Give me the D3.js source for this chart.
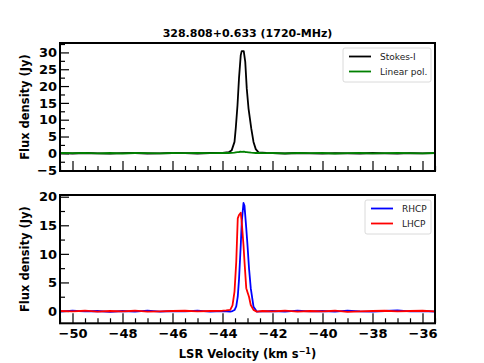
<!DOCTYPE html>
<html lang="en">
<head>
    <title>328.808+0.633 (1720-MHz)</title>
    <meta charset="utf-8"/>
    <script src="https://d3js.org/d3.v7.min.js"></script>
    <style>
        body { margin: 0; background: #fff; }
        text { font-family: "DejaVu Sans", sans-serif; }
    </style>
</head>
<body>
<div id="viz">
    <svg width="484" height="363"></svg>
</div>

<script type="text/javascript">

    // datos
    const vTop = [-50.5, -50, -49.5, -49, -48.5, -48, -47.5, -47, -46.5, -46, -45.5, -45, -44.5, -44, -43.75,
        -43.63, -43.52, -43.47, -43.40, -43.34, -43.27, -43.23, -43.15, -43.09, -43.03, -42.96, -42.85, -42.76, -42.67, -42.56,
        -42.25, -42, -41.5, -41, -40.5, -40, -39.5, -39, -38.5, -38, -37.5, -37, -36.5, -36, -35.5];
    const stokesI = [0.05, -0.05, 0.1, 0.0, -0.1, 0.05, 0.1, -0.05, 0.0, 0.1, 0.05, -0.05, 0.1, 0.15, 0.35,
        0.95, 3.4, 7.4, 14.3, 22.3, 29.2, 30.4, 30.4, 27.2, 19.3, 13.4, 7.4, 3.4, 1.25, 0.3,
        0.1, 0.05, -0.05, 0.1, 0.0, -0.1, 0.05, 0.0, -0.05, 0.1, 0.0, -0.1, 0.05, 0.0, 0.05];
    const linPol = [0.1, 0.05, 0.15, 0.0, 0.1, -0.05, 0.1, 0.05, 0.0, 0.1, 0.05, 0.15, 0.05, 0.1, 0.1,
        0.15, 0.2, 0.3, 0.35, 0.4, 0.5, 0.45, 0.5, 0.4, 0.35, 0.3, 0.2, 0.15, 0.1, 0.1,
        0.05, 0.1, 0.0, 0.1, 0.05, 0.1, -0.05, 0.05, 0.1, 0.0, 0.05, 0.1, 0.05, 0.0, 0.1];

    const vBot = [-50.5, -50, -49.5, -49, -48.5, -48, -47.5, -47, -46.5, -46, -45.5, -45, -44.5, -44, -43.85,
        -43.69, -43.6, -43.52, -43.45, -43.39, -43.34, -43.27, -43.23, -43.16, -43.12, -43.05, -43.0, -42.94, -42.87, -42.76, -42.63,
        -42.4, -42, -41.5, -41, -40.5, -40, -39.5, -39, -38.5, -38, -37.5, -37, -36.5, -36, -35.5];
    const rhcp = [-0.1, 0.05, -0.05, 0.0, -0.15, 0.0, -0.1, 0.05, -0.1, 0.0, -0.05, 0.05, -0.1, 0.0, -0.05,
        -0.1, 0.0, 0.17, 0.8, 2.5, 5.5, 11.5, 15.6, 18.9, 18.4, 14.5, 11.5, 7.5, 4.0, 0.75, -0.1,
        -0.05, 0.0, -0.1, 0.05, -0.05, 0.0, -0.1, 0.05, -0.05, -0.1, 0.0, 0.1, -0.05, 0.0, -0.1];
    const lhcp = [0.0, -0.05, 0.05, -0.1, 0.0, -0.05, 0.05, -0.1, -0.05, 0.0, 0.05, -0.05, 0.0, 0.05, 0.1,
        0.2, 1.0, 3.4, 8.6, 16.2, 16.8, 17.2, 15.5, 11.5, 8.6, 4.0, 3.3, 2.5, 1.05, 0.2, -0.1,
        0.0, -0.05, 0.05, -0.1, 0.0, -0.05, 0.05, -0.15, -0.05, 0.0, 0.05, -0.05, 0.0, 0.05, -0.05];

    const xTicks = [-50, -48, -46, -44, -42, -40, -38, -36];
    const xMinor = [-50.5, -49.5, -49, -48.5, -47.5, -47, -46.5, -45.5, -45, -44.5, -43.5, -43, -42.5,
        -41.5, -41, -40.5, -39.5, -39, -38.5, -37.5, -37, -36.5, -35.5];
    const yTopTicks = [-5, 0, 5, 10, 15, 20, 25, 30];
    const yTopMinor = [-2.5, 2.5, 7.5, 12.5, 17.5, 22.5, 27.5, 32.5];
    const yBotTicks = [0, 5, 10, 15, 20];
    const yBotMinor = [-2.5, 2.5, 7.5, 12.5, 17.5];

    const svg = d3.select("svg");
    const left = 60, right = 435;

    // escalas
    const x = d3.scaleLinear().domain([-50.5, -35.5]).range([left, right]);
    const yTop = d3.scaleLinear().domain([-5.25, 32.8]).range([171, 43]);
    const yBot = d3.scaleLinear().domain([-2.15, 20.3]).range([323.3, 195]);

    function panel(id, y, yTicks, yMinor, showXLabels, series, legend) {
        const g = svg.append("g").attr("id", id);
        const top = y.range()[1], bottom = y.range()[0];

        g.append("clipPath").attr("id", "clip-" + id)
            .append("rect")
            .attr("x", left).attr("y", top)
            .attr("width", right - left).attr("height", bottom - top);

        // ejes con ticks hacia adentro
        const xa = g.append("g")
            .attr("transform", "translate(0," + bottom + ")")
            .style("font-size", "13px")
            .style("font-weight", "bold")
            .call(d3.axisBottom(x).tickValues(xTicks).tickSize(-10).tickPadding(5)
                .tickFormat(showXLabels ? d3.format("d") : ""));
        g.append("g")
            .attr("transform", "translate(0," + bottom + ")")
            .call(d3.axisBottom(x).tickValues(xMinor).tickSize(-5).tickFormat(""));

        g.append("g")
            .attr("transform", "translate(" + left + ",0)")
            .style("font-size", "13px")
            .style("font-weight", "bold")
            .call(d3.axisLeft(y).tickValues(yTicks).tickSize(-9).tickPadding(3).tickFormat(d3.format("d")));
        g.append("g")
            .attr("transform", "translate(" + left + ",0)")
            .call(d3.axisLeft(y).tickValues(yMinor.filter(v => v > y.domain()[0] && v < y.domain()[1]))
                .tickSize(-5).tickFormat(""));

        g.selectAll(".domain").remove();
        g.selectAll(".tick line").attr("stroke", "#000").attr("stroke-width", 1.2);
        g.selectAll(".tick text").attr("fill", "#000");

        const line = d3.line()
            .x(d => x(d[0]))
            .y(d => y(d[1]));

        series.forEach(s => {
            g.append("path")
                .attr("d", line(s.v.map((v, i) => [v, s.data[i]])))
                .attr("fill", "none")
                .attr("stroke", s.color)
                .attr("stroke-width", 1.8)
                .attr("stroke-linejoin", "round")
                .attr("clip-path", "url(#clip-" + id + ")");
        });

        // marco
        g.append("rect")
            .attr("x", left).attr("y", top)
            .attr("width", right - left).attr("height", bottom - top)
            .attr("fill", "none")
            .attr("stroke", "#000")
            .attr("stroke-width", 2);

        // leyenda
        const lg = g.append("g");
        lg.append("rect")
            .attr("x", legend.x).attr("y", legend.y)
            .attr("width", legend.w).attr("height", 34)
            .attr("rx", 2)
            .attr("fill", "#fff").attr("fill-opacity", 0.8)
            .attr("stroke", "#d0d0d0").attr("stroke-width", 0.8);
        series.forEach((s, i) => {
            const yy = legend.y + 8.5 + i * 15;
            lg.append("line")
                .attr("x1", legend.x + 6).attr("x2", legend.x + 28)
                .attr("y1", yy).attr("y2", yy)
                .attr("stroke", s.color).attr("stroke-width", 1.8);
            lg.append("text")
                .attr("x", legend.x + 37).attr("y", yy)
                .attr("dy", "0.35em")
                .style("font-size", "9px")
                .attr("fill", "#222")
                .text(s.name);
        });
    }

    panel("top", yTop, yTopTicks, yTopMinor, false, [
        {name: "Stokes-I", v: vTop, data: stokesI, color: "#000000"},
        {name: "Linear pol.", v: vTop, data: linPol, color: "#008000"}
    ], {x: 343, y: 48, w: 88});

    panel("bot", yBot, yBotTicks, yBotMinor, true, [
        {name: "RHCP", v: vBot, data: rhcp, color: "#0000ff"},
        {name: "LHCP", v: vBot, data: lhcp, color: "#ff0000"}
    ], {x: 365, y: 200, w: 66});

    // titulos
    svg.append("text")
        .attr("x", 247.5).attr("y", 37)
        .attr("text-anchor", "middle")
        .style("font-size", "11px")
        .style("font-weight", "bold")
        .text("328.808+0.633 (1720-MHz)");

    [["top", yTop], ["bot", yBot]].forEach(([id, y]) => {
        svg.append("text")
            .attr("transform", "translate(29," + ((y.range()[0] + y.range()[1]) / 2) + ") rotate(-90)")
            .attr("text-anchor", "middle")
            .style("font-size", "11.5px")
            .style("font-weight", "bold")
            .text("Flux density (Jy)");
    });

    const xl = svg.append("text")
        .attr("x", 247.5).attr("y", 358)
        .attr("text-anchor", "middle")
        .style("font-size", "11.5px")
        .style("font-weight", "bold");
    xl.append("tspan").text("LSR Velocity (km s");
    xl.append("tspan").attr("dy", -4).style("font-size", "8px").text("\u22121");
    xl.append("tspan").attr("dy", 4).text(")");

</script>
</body>
</html>
